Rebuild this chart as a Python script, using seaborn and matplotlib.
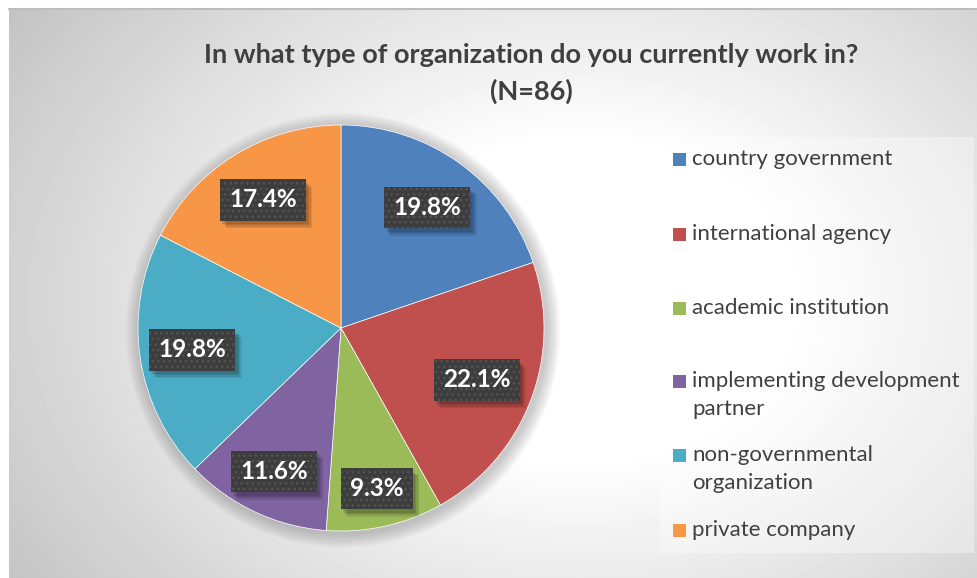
import numpy as np
import matplotlib
matplotlib.use("Agg")
import matplotlib.pyplot as plt
import matplotlib.patheffects as pe
from matplotlib.patches import Rectangle, Circle
import seaborn as sns

# Survey responses by organization type (N = 86)
categories = [
    "country government",
    "international agency",
    "academic institution",
    "implementing development\npartner",
    "non-governmental\norganization",
    "private company",
]
counts = [17, 19, 8, 10, 17, 15]
slice_colors = ["#4F81BD", "#C0504D", "#9BBB59", "#8064A2", "#4BACC6", "#F79646"]
title_lines = ["In what type of organization do you currently work in?", "(N=86)"]

sns.set_theme(style="white")
plt.rcParams["font.family"] = ["Lato", "DejaVu Sans"]

W, H = 978, 578
fig = plt.figure(figsize=(W / 100, H / 100), dpi=100)
fig.patch.set_facecolor("white")


def fx(px):
    return px / W


def fy(py):
    return 1 - py / H


class PlainShadow(pe.SimplePatchShadow):
    """Patch shadow drawn without the patch's hatch texture."""

    def draw_path(self, renderer, gc, tpath, affine, rgbFace):
        gc1 = renderer.new_gc()
        gc1.copy_properties(gc)
        gc1.set_hatch(None)
        super().draw_path(renderer, gc1, tpath, affine, rgbFace)
        gc1.restore()


# chart area with a soft radial grey gradient
x0, y0 = 9, 9
bg = fig.add_axes([fx(x0), 0, fx(W - x0), (H - y0) / H])
yy, xx = np.mgrid[y0:H, x0:W].astype(float)
d = np.sqrt(((xx - 580) / 600) ** 2 + ((yy - 300) / 450) ** 2)
v = 255 - 60 * np.clip((d - 0.35) / 0.8, 0, 1)
bg.imshow(v / 255.0, cmap="gray", vmin=0, vmax=1, aspect="auto",
          interpolation="bilinear")
bg.set_axis_off()
bg.set_zorder(-10)
fig.add_artist(plt.Line2D([fx(x0), 1], [fy(y0), fy(y0)], color="#bdbdbd", lw=1.5))

# title
fig.text(fx(531), fy(55), title_lines[0], ha="center", va="center",
         fontsize=19.5, fontweight="bold", color="#404040")
fig.text(fx(531), fy(91), title_lines[1], ha="center", va="center",
         fontsize=19.5, fontweight="bold", color="#404040")

# pie
cx, cy, R = 341, 328, 203
lim = 1.1
side = 2 * R * lim
ax = fig.add_axes([fx(cx - side / 2), (H - cy - side / 2) / H, side / W, side / H])
ax.set_facecolor("none")
palette = sns.color_palette(slice_colors)

for k in range(1, 11):
    ax.add_patch(Circle((0.01, -0.012), 1 + 0.007 * k, facecolor="#6a6a6a",
                        edgecolor="none", alpha=0.04, zorder=0))

wedges, _, autotexts = ax.pie(
    counts, colors=palette, startangle=90, counterclock=False,
    autopct=lambda p: f"{p:.1f}%", pctdistance=0.74,
    wedgeprops=dict(edgecolor="white", linewidth=0.5),
)
for w in wedges:
    w.set_zorder(2)

label_radius = [0.73, 0.715, 0.81, 0.78, 0.74, 0.74]
shadow_layers = [PlainShadow(offset=(o, -o - 1), shadow_rgbFace="black",
                             alpha=0.09) for o in (1.5, 2.5, 3.5, 4.5)]
for w, t, r in zip(wedges, autotexts, label_radius):
    ang = np.deg2rad((w.theta1 + w.theta2) / 2)
    t.set_position((r * np.cos(ang), r * np.sin(ang)))
    t.set_color("white")
    t.set_fontsize(17.5)
    t.set_fontweight("bold")
    t.set_zorder(5)
    t.set_bbox(dict(boxstyle="square,pad=0.38", facecolor="#3d3d3d",
                    edgecolor="#545454", linewidth=0, hatch="..."))
    t.get_bbox_patch().set_path_effects(shadow_layers + [pe.Normal()])

ax.set_xlim(-lim, lim)
ax.set_ylim(-lim, lim)
ax.set_aspect("equal")
ax.set_axis_off()

# legend panel
fig.add_artist(Rectangle((fx(660), fy(553)), fx(314), 416 / H,
                         transform=fig.transFigure, facecolor="white",
                         edgecolor="none", alpha=0.35, zorder=0))
item_y = [159, 234, 308, 381, 455, 530]
line_gap = 28
for lab, col, yc in zip(categories, palette, item_y):
    fig.add_artist(Rectangle((fx(673), fy(yc + 6.5)), fx(13), 13 / H,
                             transform=fig.transFigure, facecolor=col,
                             edgecolor="none", zorder=3))
    for i, line in enumerate(lab.split("\n")):
        fig.text(fx(692), fy(yc + i * line_gap), line, ha="left", va="center",
                 fontsize=16, color="#404040")

fig.savefig("out.png", dpi=100)
